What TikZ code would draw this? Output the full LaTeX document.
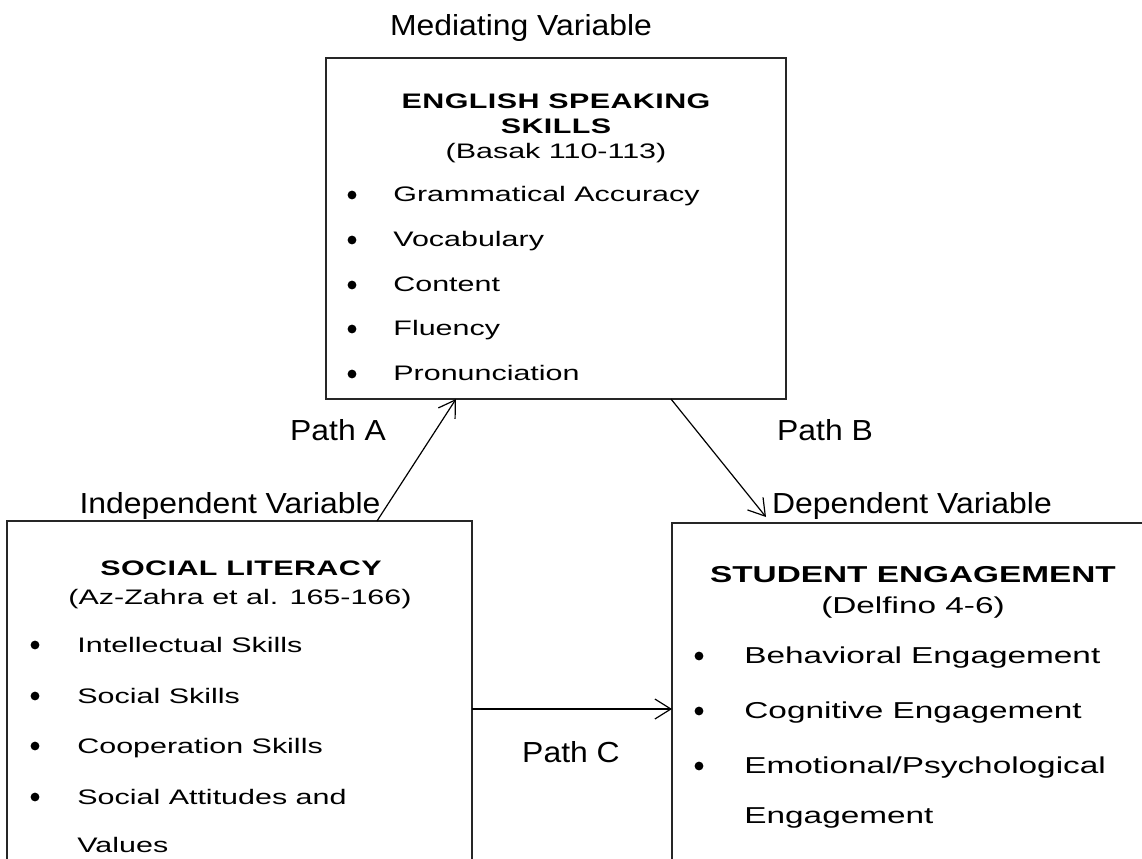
\documentclass[tikz,border=0pt]{standalone}
\usepackage{fontspec}
\setmainfont{Liberation Sans}
\newfontfamily\namefont[FakeStretch=1.1]{Liberation Sans}
\newfontfamily\widefont[FakeStretch=1.45]{Liberation Sans}
\newfontfamily\wideheadfont[FakeStretch=1.45,LetterSpace=2]{Liberation Sans}
\usetikzlibrary{arrows.meta}
\begin{document}
\begin{tikzpicture}[x=0.5pt,y=-0.5pt,varbox/.style={draw=black!85,line width=1pt,inner sep=0pt,outer sep=0pt},varname/.style={anchor=base,inner sep=0pt,font=\namefont\fontsize{14.5}{17}\selectfont},boxhead/.style={anchor=base,inner sep=0pt,font=\wideheadfont\bfseries\fontsize{10.5}{12}\selectfont},boxref/.style={anchor=base,inner sep=0pt,font=\widefont\fontsize{10.5}{12}\selectfont},boxitem/.style={anchor=base west,inner sep=0pt,font=\widefont\fontsize{10.5}{12}\selectfont},bighead/.style={boxhead,font=\widefont\bfseries\fontsize{11.5}{13}\selectfont},bigref/.style={boxref,font=\widefont\fontsize{11.5}{13}\selectfont},bigitem/.style={boxitem,font=\widefont\fontsize{11.5}{13}\selectfont},dot/.style={circle,fill=black,inner sep=0pt,minimum size=4.4pt},link/.style={line width=0.6pt,-{Straight Barb[length=8pt,width=10pt]}}]
\fill[white] (0,0) rectangle (1142,858);
\clip (0,0) rectangle (1142,858);
\node[varbox,minimum width=230pt,minimum height=170.5pt] (esk) at (556,228.5) {};
\node[varbox,minimum width=232.5pt,minimum height=179.5pt] (sl) at (239.5,700.5) {};
\node[varbox,minimum width=244pt,minimum height=178.5pt] (se) at (916,701.5) {};
\node[varname] (med) at (521,35) {Mediating Variable};
\node[varname] (indep) at (230,513) {Independent Variable};
\node[varname] (dep) at (912,513) {Dependent Variable};
\node[varname] (pa) at (338,440) {Path A};
\node[varname] (pb) at (825,440) {Path B};
\node[varname] (pc) at (571,762) {Path C};
\node[boxhead] (eskh1) at (556,108) {ENGLISH SPEAKING};
\node[boxhead] (eskh2) at (556,133) {SKILLS};
\node[boxref] (eskr) at (556,158) {(Basak 110-113)};
\node[dot] (eskd1) at (352,195) {};
\node[boxitem] (eski1) at (393,201) {Grammatical Accuracy};
\node[dot] (eskd2) at (352,240) {};
\node[boxitem] (eski2) at (393,246) {Vocabulary};
\node[dot] (eskd3) at (352,285) {};
\node[boxitem] (eski3) at (393,291) {Content};
\node[dot] (eskd4) at (352,329) {};
\node[boxitem] (eski4) at (393,335) {Fluency};
\node[dot] (eskd5) at (352,374) {};
\node[boxitem] (eski5) at (393,380) {Pronunciation};
\node[boxhead] (slh) at (241,575) {SOCIAL LITERACY};
\node[boxref] (slr) at (240,604) {(Az-Zahra et al. 165-166)};
\node[dot] (sld1) at (35,645) {};
\node[boxitem] (sli1) at (77,652) {Intellectual Skills};
\node[dot] (sld2) at (35,696) {};
\node[boxitem] (sli2) at (77,703) {Social Skills};
\node[dot] (sld3) at (35,746) {};
\node[boxitem] (sli3) at (77,753) {Cooperation Skills};
\node[dot] (sld4) at (35,797) {};
\node[boxitem] (sli4) at (77,804) {Social Attitudes and};
\node[boxitem] (sli5) at (77,852) {Values};
\node[bighead] (seh) at (913,582) {STUDENT ENGAGEMENT};
\node[bigref] (ser) at (913,613) {(Delfino 4-6)};
\node[dot] (sed1) at (699,656) {};
\node[bigitem] (sei1) at (744,663) {Behavioral Engagement};
\node[dot] (sed2) at (699,711) {};
\node[bigitem] (sei2) at (744,718) {Cognitive Engagement};
\node[dot] (sed3) at (699,766) {};
\node[bigitem] (sei3) at (744,773) {Emotional/Psychological};
\node[bigitem] (sei4) at (744,823) {Engagement};
\draw[link] ([xshift=185pt]sl.north west) -- ([xshift=65pt]esk.south west);
\draw[link] ([xshift=172.5pt]esk.south west) -- ([xshift=47pt,yshift=3pt]se.north west);
\draw[link] ([yshift=-94pt]sl.north east) coordinate (c0) -- (c0 -| se.west);
\end{tikzpicture}
\end{document}
